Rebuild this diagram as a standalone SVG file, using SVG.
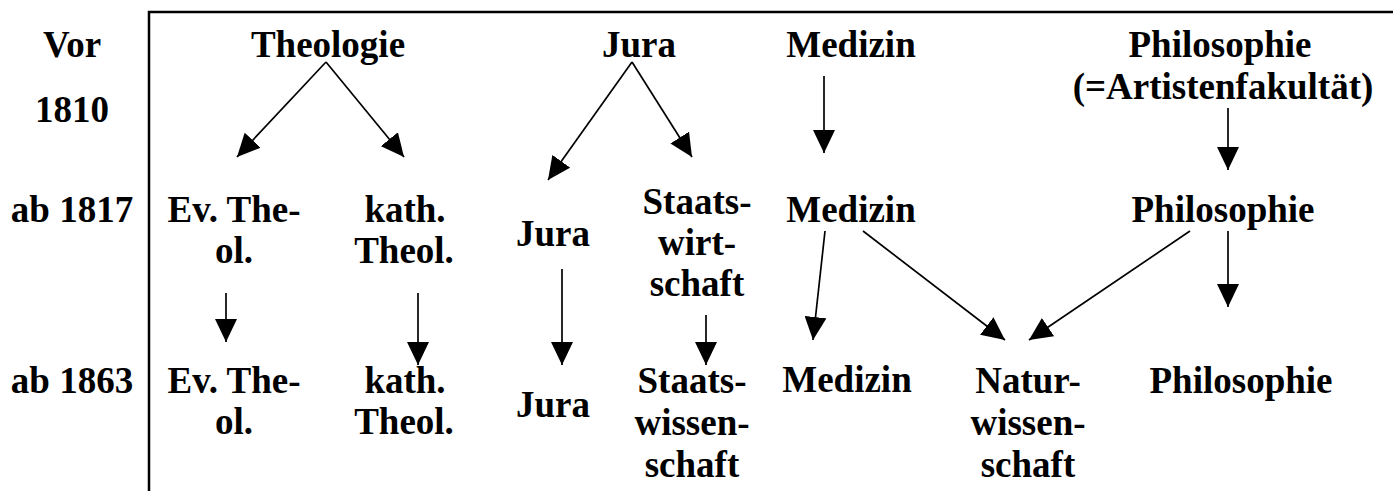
<svg xmlns="http://www.w3.org/2000/svg" width="1393" height="491" viewBox="0 0 1393 491">
  <style>
    text { font-family: "Liberation Serif", "Times New Roman", serif; font-weight: bold; font-size: 37px; fill: #000; text-anchor: middle; }
    .frame { fill: none; stroke: #000; stroke-width: 2.5; }
    .edge { fill: none; stroke: #000; stroke-width: 1.7; marker-end: url(#head); }
  </style>
  <defs>
    <marker id="head" markerUnits="userSpaceOnUse" markerWidth="23" markerHeight="22" refX="23" refY="11" orient="auto" viewBox="0 0 23 22">
      <path d="M0,0 L23,11 L0,22 z" fill="#000"/>
    </marker>
  </defs>

  <rect width="1393" height="491" fill="#fff"/>

  <!-- frame: top rule and period column divider -->
  <path class="frame" d="M149,491 V12 H1393"/>

  <!-- period labels -->
  <g id="periods">
    <text x="72" y="57">Vor</text>
    <text x="72" y="122">1810</text>
    <text x="72" y="222">ab 1817</text>
    <text x="72" y="393">ab 1863</text>
  </g>

  <!-- before 1810 -->
  <g id="theologie"><text x="328" y="57">Theologie</text></g>
  <g id="jura-1810"><text x="639" y="57">Jura</text></g>
  <g id="medizin-1810"><text x="851" y="57">Medizin</text></g>
  <g id="philosophie-1810">
    <text x="1220" y="57">Philosophie</text>
    <text x="1223" y="99">(=Artistenfakultät)</text>
  </g>

  <!-- from 1817 -->
  <g id="ev-theol-1817"><text x="234" y="222">Ev. The-</text><text x="234" y="263">ol.</text></g>
  <g id="kath-theol-1817"><text x="405" y="222">kath.</text><text x="404" y="263">Theol.</text></g>
  <g id="jura-1817"><text x="553" y="246">Jura</text></g>
  <g id="staatswirtschaft-1817">
    <text x="697" y="214">Staats-</text>
    <text x="697" y="255">wirt-</text>
    <text x="697" y="296">schaft</text>
  </g>
  <g id="medizin-1817"><text x="851" y="222">Medizin</text></g>
  <g id="philosophie-1817"><text x="1223" y="222">Philosophie</text></g>

  <!-- from 1863 -->
  <g id="ev-theol-1863"><text x="234" y="393">Ev. The-</text><text x="234" y="434">ol.</text></g>
  <g id="kath-theol-1863"><text x="405" y="393">kath.</text><text x="404" y="434">Theol.</text></g>
  <g id="jura-1863"><text x="553" y="417">Jura</text></g>
  <g id="staatswissenschaft-1863">
    <text x="692" y="393">Staats-</text>
    <text x="692" y="435">wissen-</text>
    <text x="692" y="477">schaft</text>
  </g>
  <g id="medizin-1863"><text x="847" y="392">Medizin</text></g>
  <g id="naturwissenschaft-1863">
    <text x="1028" y="393">Natur-</text>
    <text x="1028" y="435">wissen-</text>
    <text x="1028" y="477">schaft</text>
  </g>
  <g id="philosophie-1863"><text x="1241" y="393">Philosophie</text></g>

  <!-- connectors -->
  <g id="connectors">
    <line class="edge" x1="326" y1="62" x2="237" y2="157"/>
    <line class="edge" x1="326" y1="62" x2="404" y2="157"/>
    <line class="edge" x1="632" y1="62" x2="548" y2="180"/>
    <line class="edge" x1="632" y1="62" x2="692" y2="157"/>
    <line class="edge" x1="824" y1="76" x2="824" y2="153"/>
    <line class="edge" x1="1228" y1="108" x2="1228" y2="170"/>

    <line class="edge" x1="226" y1="293" x2="226" y2="342"/>
    <line class="edge" x1="418" y1="293" x2="418" y2="365"/>
    <line class="edge" x1="562" y1="269" x2="562" y2="365"/>
    <line class="edge" x1="706" y1="315" x2="706" y2="365"/>
    <line class="edge" x1="825" y1="231" x2="813" y2="340"/>
    <line class="edge" x1="863" y1="231" x2="1005" y2="340"/>
    <line class="edge" x1="1190" y1="231" x2="1029" y2="340"/>
    <line class="edge" x1="1228" y1="231" x2="1228" y2="307"/>
  </g>
</svg>
